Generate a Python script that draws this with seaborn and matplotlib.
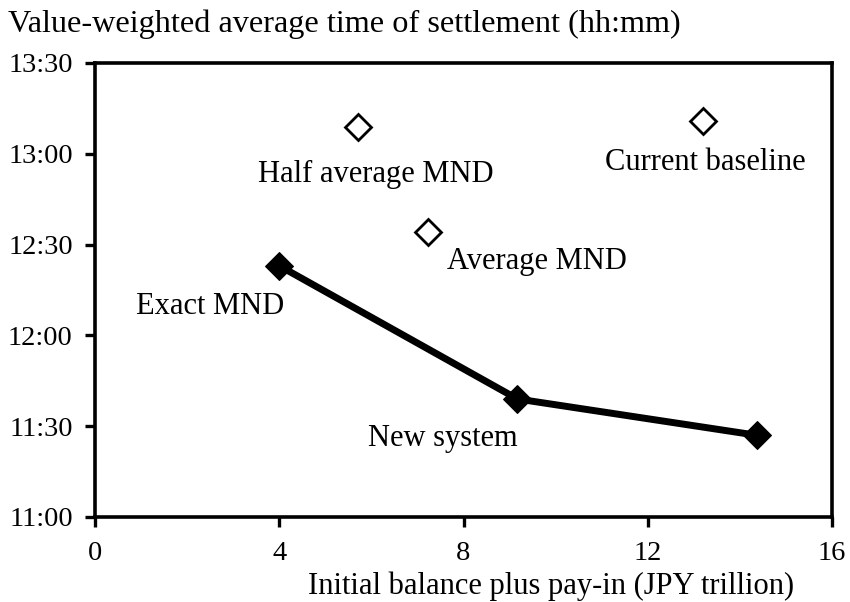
import matplotlib
matplotlib.use("Agg")
import matplotlib.pyplot as plt
import seaborn as sns
import pandas as pd

# New system (connected, filled markers)
new_x = [4.0, 9.17, 14.37]
new_y_min = [743, 699, 687]  # minutes after midnight

# Other scenarios (hollow markers)
other_x = [5.72, 7.22, 13.2]
other_y_min = [789, 754, 791]

x_ticks = [0, 4, 8, 12, 16]
y_ticks = [660, 690, 720, 750, 780, 810]
y_tick_labels = ["11:00", "11:30", "12:00", "12:30", "13:00", "13:30"]

sns.set_style("white", {"xtick.bottom": True, "ytick.left": True,
                        "text.color": "black", "axes.labelcolor": "black",
                        "xtick.color": "black", "ytick.color": "black"})
plt.rcParams['font.family'] = ['Liberation Serif', 'DejaVu Serif']

FS_TITLE = 23.2
FS_LAB = 22
FS_TICK = 20.5

fig = plt.figure(figsize=(8.5, 6.02), dpi=100)
ax = fig.add_axes([95/850, 1-517/602, (832-95)/850, (517-63)/602])

df_new = pd.DataFrame({"x": new_x, "y": new_y_min})

sns.lineplot(data=df_new, x="x", y="y", ax=ax, color="black", linewidth=5,
             marker="D", markersize=14, markerfacecolor="black",
             markeredgecolor="black", sort=False)
ax.plot(other_x, other_y_min, linestyle="none", marker="D", markersize=13,
        markerfacecolor="white", markeredgecolor="black", markeredgewidth=2)

# labels
kw = dict(fontsize=FS_LAB, ha="center", va="center", color="black")
ax.text(2.51, 729.5, "Exact MND", **kw)
ax.text(7.55, 686, "New system", **kw)
ax.text(6.1, 773, "Half average MND", **kw)
ax.text(9.6, 744.5, "Average MND", **kw)
ax.text(13.25, 777, "Current baseline", **kw)

ax.set_xlim(0, 16)
ax.set_ylim(660, 810)
ax.set_xticks(x_ticks)
ax.set_xticklabels([str(t) for t in x_ticks])
ax.set_yticks(y_ticks)
ax.set_yticklabels(y_tick_labels)
ax.tick_params(axis="both", direction="out", length=7, width=2.4,
               labelsize=FS_TICK, colors="black")
ax.tick_params(axis="y", pad=9)
ax.tick_params(axis="x", pad=10.5)
for s in ax.spines.values():
    s.set_linewidth(2.6)
    s.set_color("black")
ax.set_xlabel("")
ax.set_ylabel("")

fig.text(8/850, 1-24/602, "Value-weighted average time of settlement (hh:mm)",
         fontsize=FS_TITLE, ha="left", va="center", color="black")
fig.text(551/850, 1-594/602, "Initial balance plus pay-in (JPY trillion)",
         fontsize=FS_LAB, ha="center", va="baseline", color="black")

fig.savefig("out.png", dpi=100)
